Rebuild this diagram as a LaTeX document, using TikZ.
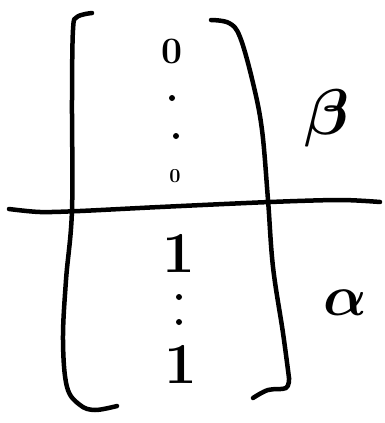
\documentclass[tikz,border=0pt]{standalone}
\usepackage{amsmath}
\begin{document}
\begin{tikzpicture}[x=1pt,y=-1pt,
  ink/.style={line width=4.5pt,line cap=round,line join=round,black},
  dig/.style={inner sep=0pt,anchor=center},
  dotmark/.style={fill=black}]
\useasboundingbox (0,0) rectangle (385,423);
% left bracket
\draw[ink] plot[smooth,tension=0.6] coordinates {(92,13) (77,17) (73,30) (72,100) (72,210) (66,280) (63,340) (67,387) (80,405) (95,410) (117,406)};
% right bracket
\draw[ink] plot[smooth,tension=0.6] coordinates {(211,20) (229,23) (240,37) (253,83) (262,130) (268,200) (273,267) (283,333) (289,378)};
\draw[ink] plot[smooth,tension=0.6] coordinates {(289,378) (286,388) (268,390) (253,398)};
% horizontal line
\draw[ink] plot[smooth,tension=0.5] coordinates {(9,209) (40,212) (80,211) (160,207) (270,202) (340,200) (380,202)};
% upper entries
\node[dig,font=\Huge\bfseries,scale=1.5] (z1) at (172,51) {0};
\fill[dotmark] (172,98) circle (3pt);
\fill[dotmark] (176,136) circle (3pt);
\node[dig,font=\Huge\bfseries,scale=0.8] (z2) at (175,176) {0};
% lower entries
\node[dig,font=\fontsize{58}{60}\selectfont\bfseries] (o1) at (179,253) {1};
\fill[dotmark] (179,297) circle (3pt);
\fill[dotmark] (179,322) circle (3pt);
\node[dig,font=\fontsize{58}{60}\selectfont\bfseries] (o2) at (181,364) {1};
% labels
\node[dig,font=\Huge,scale=2.6] (b) at (327,118) {$\boldsymbol{\beta}$};
\node[dig,font=\Huge,scale=2.3] (a) at (345,303) {$\boldsymbol{\alpha}$};
\end{tikzpicture}
\end{document}
